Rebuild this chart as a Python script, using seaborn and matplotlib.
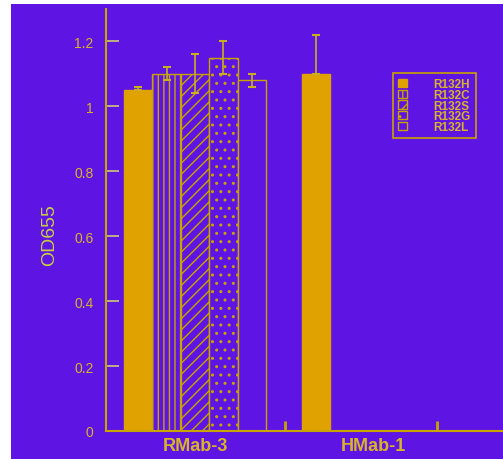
import pandas as pd
import seaborn as sns
import matplotlib.pyplot as plt
from matplotlib.patches import Rectangle

# data
antibodies = ['RMab-3', 'HMab-1']
mutants = ['R132H', 'R132C', 'R132S', 'R132G', 'R132L']
od_rmab3 = [1.05, 1.10, 1.10, 1.15, 1.08]
err_rmab3 = [0.01, 0.02, 0.06, 0.05, 0.02]
od_hmab1 = [1.10, 0.0, 0.0, 0.0, 0.0]
err_hmab1 = [0.12, 0.0, 0.0, 0.0, 0.0]

rows = []
for ab, vals, errs in [('RMab-3', od_rmab3, err_rmab3), ('HMab-1', od_hmab1, err_hmab1)]:
    for m, v, e in zip(mutants, vals, errs):
        rows.append({'Antibody': ab, 'Mutant': m, 'OD655': v, 'err': e})
df = pd.DataFrame(rows)

# colours
purple = '#5e14e2'
gold = '#c8a400'
orange = '#e0a200'
txt = '#d8b428'

sns.set_theme(style='white')
plt.rcParams['font.family'] = ['Liberation Sans', 'DejaVu Sans']
plt.rcParams['hatch.linewidth'] = 1.0

fig = plt.figure(figsize=(5.03, 4.6), dpi=100)
fig.patch.set_facecolor('white')
fig.patches.append(Rectangle((11 / 503, 0), 1, 455 / 460, transform=fig.transFigure,
                             facecolor=purple, edgecolor='none', zorder=-10))
ax = fig.add_axes([106 / 503, 28 / 460, 1 - 106 / 503, 422 / 460])
ax.set_facecolor(purple)

sns.barplot(data=df, x='Antibody', y='OD655', hue='Mutant', order=antibodies,
            hue_order=mutants, errorbar=None, width=0.8, ax=ax, saturation=1,
            palette=[orange, purple, purple, purple, purple],
            edgecolor=gold, linewidth=1.0, legend=True)

hatches = ['', '|||', '///', '..', '']
bar_groups = list(ax.containers)
for i, cont in enumerate(bar_groups):
    for bar in cont:
        bar.set_hatch(hatches[i])
        bar.set_edgecolor(orange if i == 0 else gold)

# error bars: solid bars hide the lower half, open bars show both halves
for i, cont in enumerate(bar_groups):
    sub = df[df['Mutant'] == mutants[i]].set_index('Antibody').loc[antibodies]
    for bar, v, e in zip(cont, sub['OD655'], sub['err']):
        if e > 0:
            yerr = [[0], [e]] if i == 0 else e
            ax.errorbar(bar.get_x() + bar.get_width() / 2, v, yerr=yerr, color='#c8b020',
                        elinewidth=1.2, capsize=3, capthick=1.5, zorder=5)

ax.set_ylim(0, 1.3)
ax.set_xlim(-0.5, 1.73)
ax.set_yticks([0, 0.2, 0.4, 0.6, 0.8, 1.0, 1.2])
ax.set_yticklabels(['0', '0.2', '0.4', '0.6', '0.8', '1', '1.2'])
ax.tick_params(axis='y', left=True, direction='in', length=9, width=1.2, color='#d0c878',
               labelsize=10, labelcolor=txt, pad=9)
ax.tick_params(axis='x', length=0, labelsize=13, labelcolor=txt, pad=4)
for lab in ax.get_xticklabels():
    lab.set_fontweight('bold')
ax.set_xticks([0.503, 1.362], minor=True)
ax.tick_params(axis='x', which='minor', bottom=True, direction='in', length=7, width=2,
               color=gold)

ax.set_xlabel('')
ax.set_ylabel('OD655', fontsize=14, color='#c8d040')
ax.yaxis.set_label_coords(-0.121, 0.467)

for side in ['top', 'right']:
    ax.spines[side].set_visible(False)
for side in ['left', 'bottom']:
    ax.spines[side].set_color(gold)
    ax.spines[side].set_linewidth(1.5)

leg = ax.legend(loc='upper left', bbox_to_anchor=(0.723, 0.848), borderaxespad=0,
                frameon=True, fontsize=8.5, handlelength=0.75, handleheight=0.7,
                labelspacing=-0.12, borderpad=0.45, handletextpad=2.2,
                facecolor=purple, edgecolor=gold, fancybox=False, framealpha=1)
leg.get_frame().set_linewidth(1.2)
for t in leg.get_texts():
    t.set_color(txt)
    t.set_fontweight('bold')
for i, (h, hat) in enumerate(zip(leg.legend_handles, hatches)):
    h.set_hatch(hat)
    h.set_edgecolor(orange if i == 0 else gold)

fig.savefig('out.png', dpi=100, facecolor=fig.get_facecolor())
